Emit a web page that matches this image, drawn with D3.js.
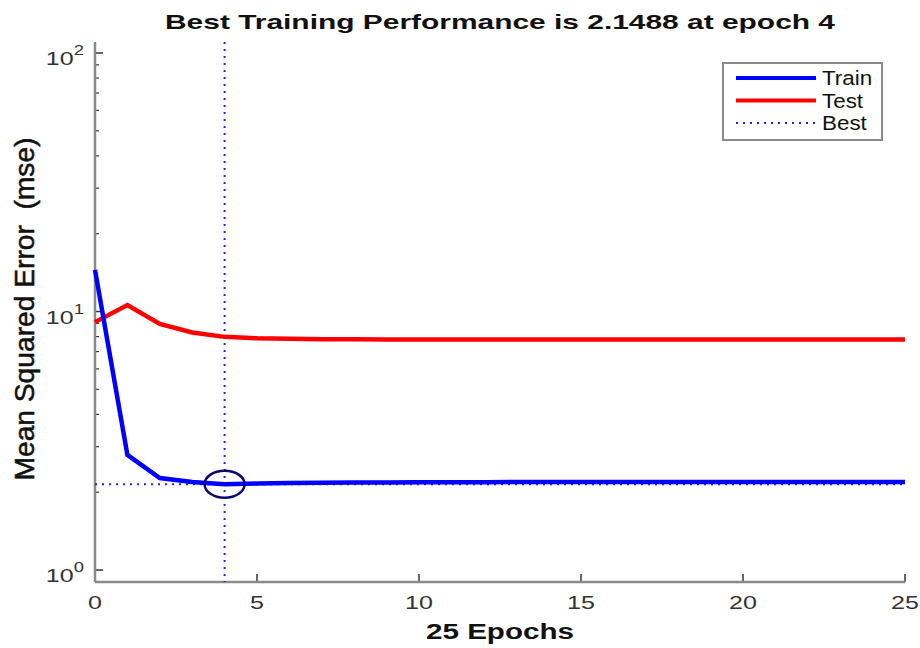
<!DOCTYPE html>
<html><head><meta charset="utf-8">
<script src="https://cdn.jsdelivr.net/npm/d3@7"></script>
<style>body{margin:0;background:#fff}svg{display:block;font-family:"Liberation Sans",Arial,sans-serif}</style>
</head><body><svg id="c" width="920" height="648"></svg>
<script>
const epochs = [0,1,2,3,4,5,6,7,8,9,10,11,12,13,14,15,16,17,18,19,20,21,22,23,24,25];
const train = [14.5,2.79,2.27,2.19,2.1488,2.16,2.17,2.175,2.18,2.18,2.185,2.185,2.185,2.19,2.19,2.19,2.19,2.19,2.19,2.19,2.19,2.19,2.19,2.19,2.19,2.19];
const test = [9.1,10.6,8.95,8.3,7.98,7.88,7.84,7.82,7.81,7.8,7.8,7.8,7.8,7.8,7.8,7.8,7.8,7.8,7.8,7.8,7.8,7.8,7.8,7.8,7.8,7.8];
const bestEpoch = 4, bestValue = 2.1488;
const xTicks = [0,5,10,15,20,25];
const yMajor = [1,10,100];
const yMinor = [2,3,4,5,6,7,8,9,20,30,40,50,60,70,80,90];
const legendItems = [{name:"Train",color:"#0000ff",dash:null,w:4},{name:"Test",color:"#ff0000",dash:null,w:4},{name:"Best",color:"#2222dd",dash:"2,5",w:2}];
const titleText = "Best Training Performance is 2.1488 at epoch 4";
const xLabel = "25 Epochs";
const yLabel = "Mean Squared Error  (mse)";

const svg = d3.select("#c");
const L=95,R=905,T=42,B=582;
const SX = 1.32; // horizontal stretch of the reference picture
const x = d3.scaleLinear().domain([0,25]).range([L,R]);
const y = d3.scaleLog().domain([0.899,110.3]).range([B,T]);

// ticks
svg.append("g").selectAll("line").data(yMinor).join("line")
  .attr("x1",L).attr("x2",L+4).attr("y1",d=>y(d)).attr("y2",d=>y(d))
  .attr("stroke","#333").attr("stroke-width",1.2);
svg.append("g").selectAll("line").data(yMajor).join("line")
  .attr("x1",L).attr("x2",L+8).attr("y1",d=>y(d)).attr("y2",d=>y(d))
  .attr("stroke","#333").attr("stroke-width",1.5);
svg.append("g").selectAll("line").data(xTicks).join("line")
  .attr("x1",d=>x(d)).attr("x2",d=>x(d)).attr("y1",B).attr("y2",B-8)
  .attr("stroke","#333").attr("stroke-width",1.5);

// axes lines
svg.append("line").attr("x1",L).attr("x2",L).attr("y1",T).attr("y2",B).attr("stroke","#8a8a8a").attr("stroke-width",2.5);
svg.append("line").attr("x1",L).attr("x2",R).attr("y1",B).attr("y2",B).attr("stroke","#8a8a8a").attr("stroke-width",2.5);

// tick labels
svg.append("g").selectAll("text").data(xTicks).join("text")
  .attr("transform",d=>`translate(${x(d)},609) scale(${SX},1)`).attr("text-anchor","middle")
  .attr("font-size",19).attr("fill","#333").text(d=>d);
const yl = svg.append("g").selectAll("text").data(yMajor).join("text")
  .attr("transform",d=>`translate(84,${y(d)+12}) scale(${SX},1)`).attr("text-anchor","end")
  .attr("font-size",19).attr("fill","#333");
yl.append("tspan").text("10");
yl.append("tspan").attr("dy",-10).attr("font-size",14).text(d=>Math.round(Math.log10(d)));

// best lines
svg.append("line").attr("x1",x(bestEpoch)).attr("x2",x(bestEpoch)).attr("y1",T).attr("y2",B)
  .attr("stroke","#2222dd").attr("stroke-width",2).attr("stroke-dasharray","2,5");
svg.append("line").attr("x1",L).attr("x2",R).attr("y1",y(bestValue)).attr("y2",y(bestValue))
  .attr("stroke","#2222dd").attr("stroke-width",2).attr("stroke-dasharray","2,5");

const line = d3.line().x((d,i)=>x(epochs[i])).y(d=>y(d));
svg.append("path").datum(test).attr("d",line).attr("fill","none").attr("stroke","#ff0000").attr("stroke-width",4.5);
svg.append("path").datum(train).attr("d",line).attr("fill","none").attr("stroke","#0000ff").attr("stroke-width",4.5);

// circle
svg.append("ellipse").attr("cx",x(bestEpoch)).attr("cy",y(bestValue)).attr("rx",20).attr("ry",13.5)
  .attr("fill","none").attr("stroke","#0a0a6e").attr("stroke-width",2.5);

// legend
const lg = svg.append("g");
lg.append("rect").attr("x",723).attr("y",63).attr("width",159).attr("height",77)
  .attr("fill","#fff").attr("stroke","#8a8a8a").attr("stroke-width",2);
legendItems.forEach((d,i)=>{
  const yy = 78 + i*22.5;
  lg.append("line").attr("x1",736).attr("x2",816).attr("y1",yy).attr("y2",yy)
    .attr("stroke",d.color).attr("stroke-width",d.w).attr("stroke-dasharray",d.dash);
  lg.append("text").attr("transform",`translate(822,${yy+7}) scale(1.15,1)`).attr("font-size",19.5).attr("fill","#111").text(d.name);
});

// titles
svg.append("text").attr("x",500).attr("y",29).attr("text-anchor","middle").attr("font-size",21).attr("font-weight","bold").attr("fill","#111")
  .attr("textLength",670).attr("lengthAdjust","spacingAndGlyphs").text(titleText);
svg.append("text").attr("x",500).attr("y",639).attr("text-anchor","middle").attr("font-size",22).attr("font-weight","bold").attr("fill","#111")
  .attr("textLength",148).attr("lengthAdjust","spacingAndGlyphs").text(xLabel);
svg.append("text").attr("transform","translate(34,309) rotate(-90)").attr("text-anchor","middle").attr("font-size",27).attr("fill","#111")
  .attr("stroke","#111").attr("stroke-width",0.5).style("white-space","pre")
  .attr("textLength",343).attr("lengthAdjust","spacingAndGlyphs").text(yLabel);
</script></body></html>
